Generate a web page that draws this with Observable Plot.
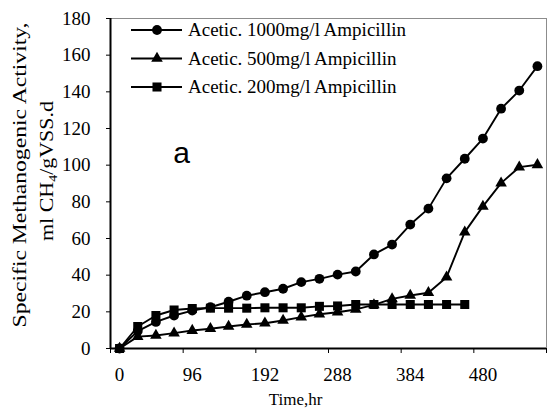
<!DOCTYPE html>
<html>
<head>
<meta charset="utf-8">
<script src="https://cdn.jsdelivr.net/npm/d3@7"></script>
<script src="https://cdn.jsdelivr.net/npm/@observablehq/plot@0.6"></script>
<style>
  html, body { margin: 0; padding: 0; background: white; }
  svg { display: block; }
</style>
</head>
<body>
<div id="chart"></div>
<script>
// ---- data ----
const times = [0, 24, 48, 72, 96, 120, 144, 168, 192, 216, 240, 264, 288, 312, 336, 360, 384, 408, 432, 456, 480, 504, 528, 552];
const s1000 = [0, 9.5, 14.5, 18, 20.7, 22.5, 25.5, 28.8, 30.7, 32.6, 36.2, 38, 40.3, 42, 51.3, 56.7, 67.6, 76.3, 92.8, 103.5, 114.5, 130.8, 140.7, 154];
const s500 = [0, 6.5, 7.1, 8.4, 9.8, 10.8, 12, 13.1, 13.8, 15.3, 17.1, 18.7, 19.8, 21.3, 23.8, 27.1, 28.9, 30.4, 38.9, 63.5, 77.5, 90.2, 98.9, 100.2];
const s200 = [0, 12, 18, 21, 21.8, 22, 22, 22, 22.2, 22.2, 22.2, 23, 23.2, 24, 24, 24, 24, 24, 24, 24];
const seriesNames = ["Acetic. 1000mg/l Ampicillin", "Acetic. 500mg/l Ampicillin", "Acetic. 200mg/l Ampicillin"];
const seriesSymbols = ["circle", "triangle", "square"];
const seriesValues = [s1000, s500, s200];
const yTicks = [0, 20, 40, 60, 80, 100, 120, 140, 160, 180];
const xTickLabels = [0, 96, 192, 288, 384, 480];
const xTickMarks = [-12, 84, 180, 276, 372, 468, 564];

// ---- build table ----
const rows = [];
seriesValues.forEach((vals, si) => {
  vals.forEach((v, i) => rows.push({t: times[i], v, s: seriesNames[si], sym: seriesSymbols[si]}));
});
const symR = {circle: 4.9, triangle: 4.3, square: 5.1};

const serif = "'Liberation Serif', 'Times New Roman', serif";

const marks = [
  Plot.ruleY([180], {stroke: "#8c8c8c", strokeWidth: 1}),
  Plot.ruleX([564], {stroke: "#8c8c8c", strokeWidth: 1}),
  Plot.axisY({ticks: yTicks, tickSize: 4, tickPadding: 16, label: null, fontSize: 19, fontFamily: serif, tickFormat: d => String(d)}),
  Plot.axisX({ticks: xTickMarks, tickSize: 5, tickFormat: () => "", label: null}),
  Plot.axisX({ticks: xTickLabels, tickSize: 0, tickPadding: 19, label: null, fontSize: 19, fontFamily: serif, tickFormat: d => String(d)}),
  Plot.ruleY([0], {stroke: "black", strokeWidth: 2}),
  Plot.ruleX([-12], {stroke: "black", strokeWidth: 2}),
  Plot.text(["Time,hr"], {frameAnchor: "bottom", lineAnchor: "middle", textAnchor: "middle", dx: -33, dy: 51, fontSize: 17, fontFamily: serif, fill: "black"}),
  Plot.text(["a"], {frameAnchor: "top-left", lineAnchor: "middle", textAnchor: "middle", dx: 71, dy: 135, fontSize: 30, fontFamily: "'Liberation Sans', Arial, sans-serif", fill: "black"})
];
seriesNames.forEach((name, si) => {
  const d = rows.filter(r => r.s === name);
  marks.push(Plot.line(d, {x: "t", y: "v", stroke: "black", strokeWidth: 1.9}));
  marks.push(Plot.dot(d, {x: "t", y: "v", symbol: seriesSymbols[si], r: symR[seriesSymbols[si]], fill: "black", stroke: "none"}));
});

const chart = Plot.plot({
  width: 547,
  height: 410,
  marginLeft: 110,
  marginRight: 1,
  marginTop: 18,
  marginBottom: 62,
  style: {fontFamily: serif, fontSize: "18px", background: "white", color: "black"},
  x: {domain: [-12, 564]},
  y: {domain: [0, 180]},
  symbol: {domain: seriesSymbols, range: seriesSymbols},
  marks
});
document.getElementById("chart").appendChild(chart);

// ---- legend (inside plot) ----
const svg = d3.select(chart);
const lg = svg.append("g");
const legendY = [30, 58.5, 87];
seriesNames.forEach((name, si) => {
  const y = legendY[si];
  lg.append("line").attr("x1", 131).attr("x2", 182).attr("y1", y).attr("y2", y)
    .attr("stroke", "black").attr("stroke-width", 1.9);
  const sym = {circle: d3.symbolCircle, triangle: d3.symbolTriangle, square: d3.symbolSquare}[seriesSymbols[si]];
  const r = symR[seriesSymbols[si]];
  lg.append("path").attr("d", d3.symbol(sym, Math.PI * r * r)())
    .attr("transform", `translate(157,${y})`).attr("fill", "black");
  lg.append("text").attr("x", 188).attr("y", y + 6).attr("font-family", serif)
    .attr("text-anchor", "start")
    .attr("font-size", 19).attr("fill", "black").text(name);
});

// ---- y axis title (two lines, rotated) ----
const yl = svg.append("g").attr("font-family", serif).attr("font-size", 19).attr("fill", "black").attr("text-anchor", "middle");
yl.append("text").attr("transform", "translate(26,175) rotate(-90)")
  .attr("textLength", 305).attr("lengthAdjust", "spacingAndGlyphs")
  .text("Specific Methanogenic Activity,");
const t2 = yl.append("text").attr("transform", "translate(53,171) rotate(-90)")
  .attr("textLength", 140).attr("lengthAdjust", "spacingAndGlyphs");
t2.append("tspan").text("ml CH");
t2.append("tspan").attr("font-size", 12).attr("dy", 4).text("4");
t2.append("tspan").attr("dy", -4).text("/gVSS.d");
</script>
</body>
</html>
